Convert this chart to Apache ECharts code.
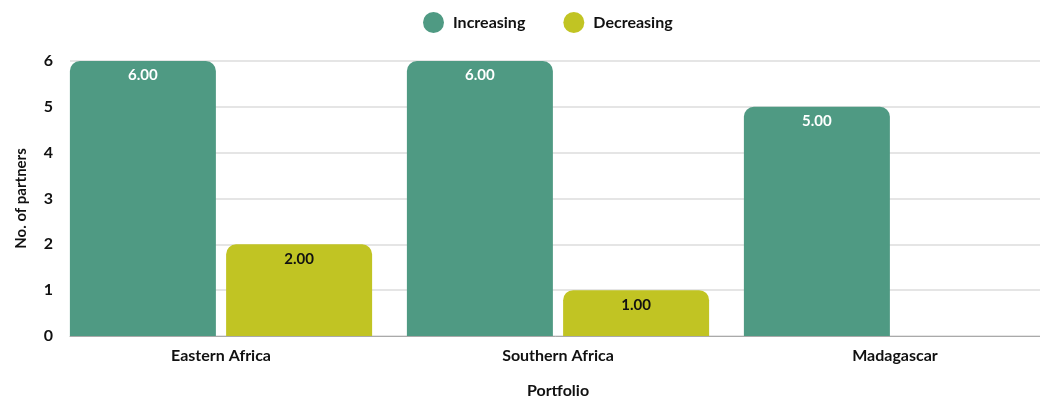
<!DOCTYPE html>
<html><head><meta charset="utf-8">
<script src="https://cdn.jsdelivr.net/npm/echarts@6/dist/echarts.min.js"></script>
<style>html,body{margin:0;padding:0;background:#fff;overflow:hidden}#c{width:1040px;height:399px}</style>
</head><body><div id="c"></div>
<script>
const categories = ['Eastern Africa', 'Southern Africa', 'Madagascar'];
const increasing = [6, 6, 5];
const decreasing = [2, 1, null];
const yTicks = [0, 1, 2, 3, 4, 5, 6];

const FONT = 'Lato';
const chart = echarts.init(document.getElementById('c'));
const lbl = (color) => ({
  show: true, position: 'insideTop', distance: 7,
  formatter: p => p.value == null ? '' : Number(p.value).toFixed(2),
  color: color, fontFamily: FONT, fontWeight: 'bold', fontSize: 15
});
chart.setOption({
  animation: false,
  legend: {
    top: 7, left: 418, itemGap: 38,
    icon: 'circle', itemWidth: 21, itemHeight: 21,
    textStyle: { fontFamily: FONT, fontWeight: 'bold', fontSize: 16, color: '#111', padding: [0, 0, 0, 4] },
    data: ['Increasing', 'Decreasing']
  },
  grid: [
    { left: 70, width: 975, top: 61, bottom: 63, outerBoundsMode: 'none' },
    { left: 52.5, width: 1011, top: 61, bottom: 63, outerBoundsMode: 'none' }
  ],
  xAxis: [
    { gridIndex: 0, type: 'category', data: categories, axisTick: { show: false },
      axisLabel: { show: false }, axisLine: { lineStyle: { color: '#aaa' } } },
    { gridIndex: 1, type: 'category', data: categories, axisTick: { show: false },
      axisLine: { show: false },
      axisLabel: { margin: 12, fontFamily: FONT, fontWeight: 'bold', fontSize: 16, color: '#111' },
      name: 'Portfolio', nameLocation: 'middle', nameGap: 47,
      nameTextStyle: { fontFamily: FONT, fontWeight: 'bold', fontSize: 16, color: '#111' } }
  ],
  yAxis: [
    { gridIndex: 0, type: 'value', min: yTicks[0], max: yTicks[yTicks.length - 1], interval: 1,
      axisLabel: { margin: 17, fontFamily: FONT, fontWeight: 'bold', fontSize: 16, color: '#111' },
      splitLine: { lineStyle: { color: '#dcdcdc', width: 1.5 } },
      name: 'No. of partners', nameLocation: 'middle', nameGap: 41, nameRotate: 90,
      nameTextStyle: { fontFamily: FONT, fontWeight: 'bold', fontSize: 15, color: '#111' } },
    { gridIndex: 1, type: 'value', min: yTicks[0], max: yTicks[yTicks.length - 1], interval: 1,
      show: false, splitLine: { show: false } }
  ],
  series: [
    { name: 'Increasing', type: 'bar', xAxisIndex: 1, yAxisIndex: 1, data: increasing,
      barWidth: 146, barGap: '7%',
      itemStyle: { color: '#4F9A83', borderRadius: [10, 10, 0, 0] }, label: lbl('#fff') },
    { name: 'Decreasing', type: 'bar', xAxisIndex: 1, yAxisIndex: 1, data: decreasing,
      barWidth: 146, barGap: '7%',
      itemStyle: { color: '#C1C423', borderRadius: [10, 10, 0, 0] }, label: lbl('#111') }
  ]
});
</script></body></html>
